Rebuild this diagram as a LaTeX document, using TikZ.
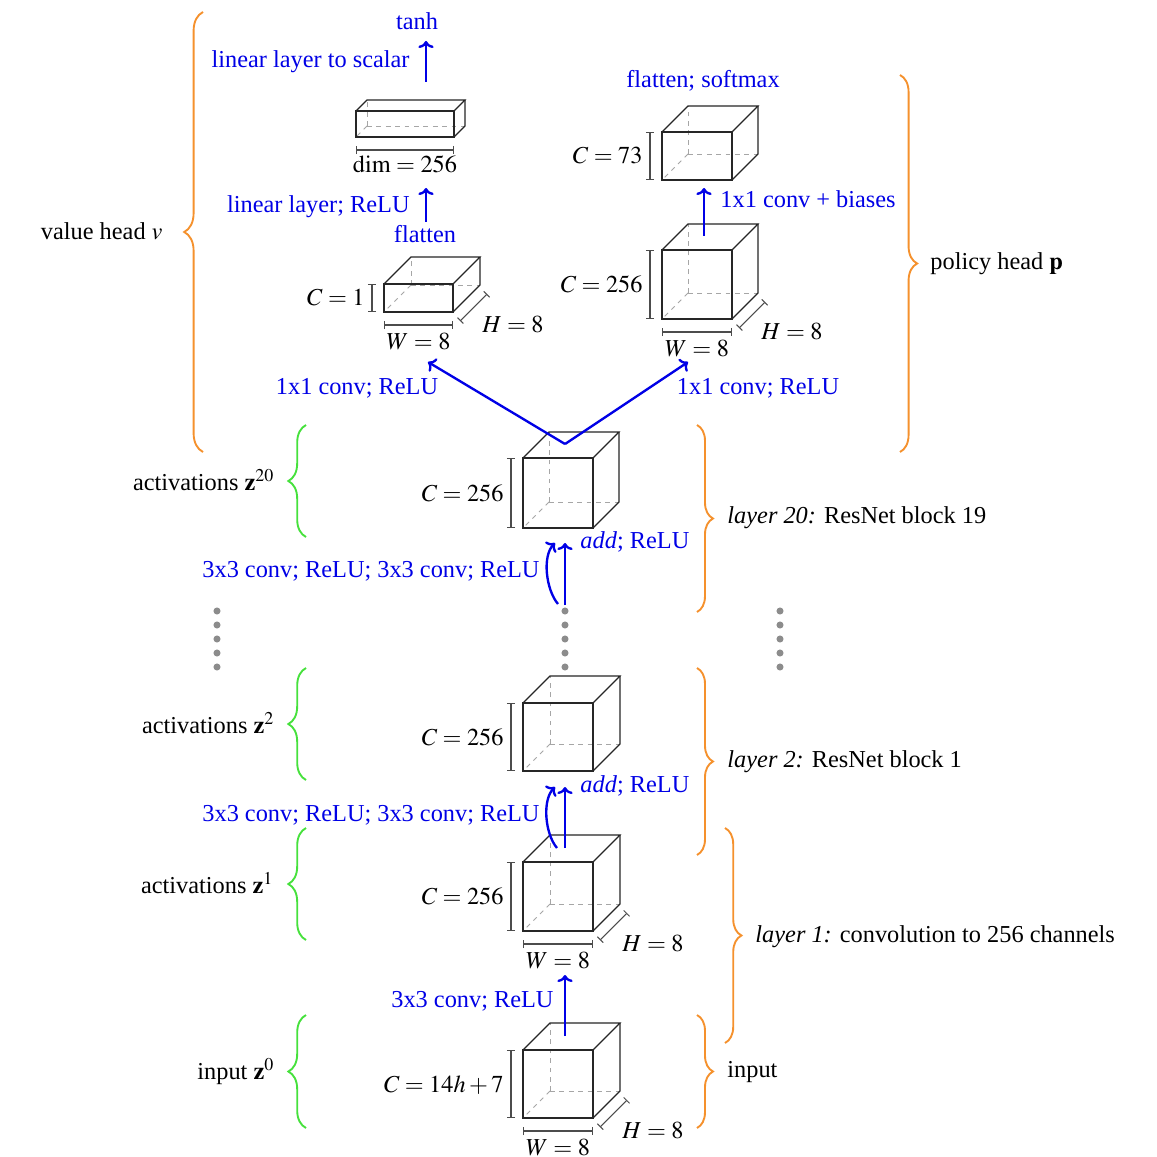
\documentclass[tikz,border=0pt]{standalone}
\usepackage{mathptmx}
\usepackage[no-math]{fontspec}
\setmainfont{Liberation Serif}
\usetikzlibrary{arrows.meta,decorations.pathreplacing,calc}
\definecolor{arblue}{RGB}{0,0,230}
\definecolor{brgreen}{RGB}{70,225,60}
\definecolor{brorange}{RGB}{245,145,45}
\tikzset{
  edge/.style={draw=black!85, line width=0.5pt},
  hid/.style={draw=black!35, line width=0.35pt, dash pattern=on 2pt off 2pt},
  dimbar/.style={draw=black!70, line width=0.45pt, {Bar[width=3.5pt]}-{Bar[width=3.5pt]}},
  flow/.style={draw=arblue, line width=1pt, -{To[length=3pt,width=6.5pt]}},
  bl/.style={text=arblue, inner sep=0pt},
  tx/.style={inner sep=0pt},
  gbrace/.style={draw=brgreen, line width=0.8pt, decorate, decoration={brace, amplitude=#1}},
  obrace/.style={draw=brorange, line width=0.8pt, decorate, decoration={brace, amplitude=#1}},
  dotc/.style={fill=black!45}
}
% cube: name, x, y, w, h, d  (front face top-left at (x,y))
\newcommand\mytcube[6]{%
  \draw[hid] ({#2+#6},{#3+#5-#6}) -- ({#2+#6},{#3-#6});
  \draw[hid] ({#2+#6},{#3+#5-#6}) -- ({#2+#4+#6},{#3+#5-#6});
  \draw[hid] ({#2+#6},{#3+#5-#6}) -- (#2,{#3+#5});
  \draw[edge] (#2,#3) rectangle ({#2+#4},{#3+#5});
  \draw[edge] (#2,#3) -- ({#2+#6},{#3-#6}) -- ({#2+#4+#6},{#3-#6}) -- ({#2+#4},#3);
  \draw[edge] ({#2+#4+#6},{#3-#6}) -- ({#2+#4+#6},{#3+#5-#6}) -- ({#2+#4},{#3+#5});
}
% C bracket: x, y, h, label, name
\newcommand\mycbar[5]{%
  \draw[dimbar] ({#1-12},#2) -- ({#1-12},{#2+#3});
  \node[tx, anchor=base east] (#5) at ({#1-19},{#2+#3/2+8}) {#4};
}
% W bracket: x, y, w, h, name
\newcommand\mywbar[5]{%
  \draw[dimbar] (#1,{#2+#4+13}) -- ({#1+#3},{#2+#4+13});
  \node[tx, anchor=base] (#5) at ({#1+#3/2},{#2+#4+37}) {$W=8$};
}
% H bracket: x, y, w, h, d, name
\newcommand\myhbar[6]{%
  \draw[dimbar] ({#1+#3+7},{#2+#4+9}) -- ({#1+#3+7+#5},{#2+#4+9-#5});
  \node[tx, anchor=base west] (#6) at ({#1+#3+29},{#2+#4+20}) {$H=8$};
}
\begin{document}
\begin{tikzpicture}[x=0.4255pt,y=-0.4255pt, every node/.append style={font=\fontsize{10.35}{12}\selectfont}]
\useasboundingbox[fill=white] (0,0) rectangle (1157,1157);

% ---------------- tensors ----------------
% input
\mytcube{in}{523}{1050}{70}{68}{27}
\mycbar{523}{1050}{68}{$C=14h+7$}{inC}
\mywbar{523}{1050}{70}{68}{inW}
\myhbar{523}{1050}{70}{68}{27}{inH}
\coordinate (in-top) at (565,1036);
% z1
\mytcube{z1}{523}{862}{70}{69}{27}
\mycbar{523}{862}{69}{$C=256$}{zoneC}
\mywbar{523}{862}{70}{69}{zoneW}
\myhbar{523}{862}{70}{69}{27}{zoneH}
\coordinate (z1-top) at (565,848);
\coordinate (z1-in) at (565,975);
\coordinate (z1-cin) at (557,848);
% z2
\mytcube{z2}{523}{703}{70}{68}{27}
\mycbar{523}{703}{68}{$C=256$}{ztwoC}
\coordinate (z2-in) at (565,787);
\coordinate (z2-cin) at (555,787);
% z20
\mytcube{z20}{523}{458}{70}{70}{26}
\mycbar{523}{458}{70}{$C=256$}{ztwentyC}
\coordinate (z20-top) at (565,444);
\coordinate (z20-in) at (565,543);
\coordinate (z20-cin) at (555,543);
% policy 256
\mytcube{pol}{662}{250}{70}{69}{26}
\mycbar{662}{250}{69}{$C=256$}{polC}
\mywbar{662}{250}{70}{69}{polW}
\myhbar{662}{250}{70}{69}{26}{polH}
\coordinate (pol-top) at (704,236);
\coordinate (pol-in) at (688,362);
% policy 73
\mytcube{pols}{662}{132}{70}{48}{26}
\mycbar{662}{132}{48}{$C=73$}{polsC}
\coordinate (pols-in) at (704,188);
% value C=1
\mytcube{val}{384}{284}{69}{28}{27}
\mycbar{384}{284}{28}{$C=1$}{valC}
\mywbar{384}{284}{69}{28}{valW}
\myhbar{384}{284}{69}{28}{27}{valH}
\coordinate (val-in) at (428,362);
\coordinate (val-top) at (426,222);
% value dim
\mytcube{dim}{356}{111}{98}{26}{11}
\draw[dimbar] (356,150) -- (454,150);
\node[tx, anchor=base] (dimL) at (405,173) {$\mathrm{dim}=256$};
\coordinate (dim-in) at (426,188);
\coordinate (dim-top) at (426,82);
\coordinate (tanh-in) at (426,41);

% ---------------- dots ----------------
\foreach \yy in {611,625,639,653,667}{
  \fill[dotc] (217,\yy) circle (1.5pt);
  \fill[dotc] (565,\yy) circle (1.5pt);
  \fill[dotc] (780,\yy) circle (1.5pt);
}
\coordinate (dots-top) at (565,605);
\coordinate (dots-ctop) at (558,604);

% ---------------- connectors ----------------
\draw[flow] (in-top) -- (z1-in);
\draw[flow] (z1-top) -- (z2-in);
\draw[flow] (z1-cin) .. controls (545,834) and (542,800) .. (z2-cin);
\draw[flow] (dots-top) -- (z20-in);
\draw[flow] (dots-ctop) .. controls (546,590) and (542,556) .. (z20-cin);
\draw[flow] (z20-top) -- (val-in);
\draw[flow] (z20-top) -- (pol-in);
\draw[flow] (pol-top) -- (pols-in);
\draw[flow] (val-top) -- (dim-in);
\draw[flow] (dim-top) -- (tanh-in);

% ---------------- blue labels ----------------
\node[bl, anchor=base] (tanhL) at (417,30) {tanh};
\node[bl, anchor=base east] (linscal) at (410,68) {linear layer to scalar};
\node[bl, anchor=base east] (linrelu) at (410,213) {linear layer; ReLU};
\node[bl, anchor=base] (flatL) at (425,243) {flatten};
\node[bl, anchor=base] (softL) at (703,88) {flatten; softmax};
\node[bl, anchor=base west] (biasL) at (720,208) {1x1 conv + biases};
\node[bl, anchor=base] (convL) at (357,394) {1x1 conv; ReLU};
\node[bl, anchor=base] (convR) at (758,394) {1x1 conv; ReLU};
\node[bl, anchor=base west] (addA) at (580,548) {\textit{add}; ReLU};
\node[bl, anchor=base east] (resA) at (540,577) {3x3 conv; ReLU; 3x3 conv; ReLU};
\node[bl, anchor=base west] (addB) at (580,792) {\textit{add}; ReLU};
\node[bl, anchor=base east] (resB) at (540,821) {3x3 conv; ReLU; 3x3 conv; ReLU};
\node[bl, anchor=base east] (convIn) at (554,1007) {3x3 conv; ReLU};

% ---------------- braces ----------------
\draw[obrace=8pt] (203,452) -- (203,12);
\node[tx, anchor=base east] (valhead) at (163,240) {value head $v$};
\draw[obrace=7.3pt] (900,75) -- (900,452);
\node[tx, anchor=base west] (polhead) at (930,270) {policy head $\mathbf{p}$};

\draw[gbrace=7.5pt] (306,537) -- (306,425);
\node[tx, anchor=base east] (actA) at (275,490) {activations $\mathbf{z}^{20}$};
\draw[gbrace=7.5pt] (306,780) -- (306,668);
\node[tx, anchor=base east] (actB) at (275,733) {activations $\mathbf{z}^{2}$};
\draw[gbrace=7.5pt] (306,940) -- (306,828);
\node[tx, anchor=base east] (actC) at (274,893) {activations $\mathbf{z}^{1}$};
\draw[gbrace=7.5pt] (306,1128) -- (306,1015);
\node[tx, anchor=base east] (actD) at (275,1079) {input $\mathbf{z}^{0}$};

\draw[obrace=6.8pt] (697,425) -- (697,612);
\node[tx, anchor=base west] (lay20) at (727,523) {\textit{layer 20:} ResNet block 19};
\draw[obrace=6.8pt] (697,668) -- (697,855);
\node[tx, anchor=base west] (lay2) at (727,767) {\textit{layer 2:} ResNet block 1};
\draw[obrace=7pt] (725,828) -- (725,1043);
\node[tx, anchor=base west] (lay1) at (755,942) {\textit{layer 1:} convolution to 256 channels};
\draw[obrace=6.8pt] (697,1015) -- (697,1128);
\node[tx, anchor=base west] (layin) at (727,1077) {input};
\end{tikzpicture}
\end{document}
